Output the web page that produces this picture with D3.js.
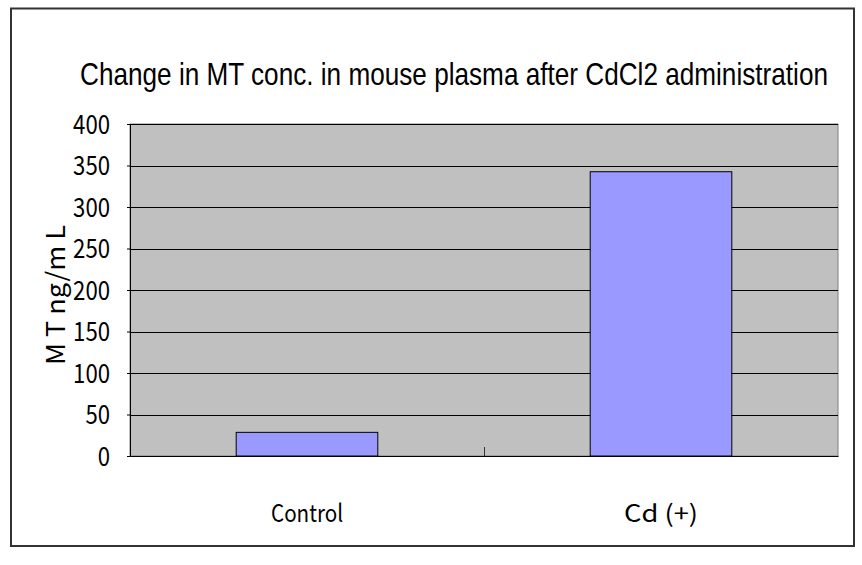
<!DOCTYPE html>
<html><head><meta charset="utf-8">
<script src="https://cdn.jsdelivr.net/npm/d3@7"></script>
<style>body{margin:0;background:#fff}svg{display:block}</style>
</head><body><svg id="c" width="862" height="565"></svg>
<script>
const categories = ["Control", "Cd (+)"];
const values = [28.5, 342.5];
const yTicks = [0, 50, 100, 150, 200, 250, 300, 350, 400];
const title = "Change in MT conc. in mouse plasma after CdCl2 administration";
const yLabel = "M T  ng/m L";

const svg = d3.select("#c");
const plot = {l: 130, r: 838, t: 124, b: 456};
const jp = "'Noto Sans CJK JP', 'DejaVu Sans', sans-serif";

svg.append("rect").attr("x", 11).attr("y", 8.5).attr("width", 843).attr("height", 537.5)
  .attr("fill", "#fff").attr("stroke", "#333").attr("stroke-width", 2);

const x = d3.scaleBand().domain(categories).range([plot.l, plot.r]).paddingInner(0).paddingOuter(0);
const y = d3.scaleLinear().domain([0, 400]).range([plot.b, plot.t]);

svg.append("rect").attr("x", plot.l).attr("y", plot.t).attr("width", plot.r - plot.l).attr("height", plot.b - plot.t)
  .attr("fill", "#C0C0C0").attr("stroke", "#808080").attr("stroke-width", 1);

// gridlines
svg.append("g").selectAll("line").data(yTicks.filter(d => d > 0)).join("line")
  .attr("x1", plot.l).attr("x2", plot.r)
  .attr("y1", d => Math.round(y(d)) + 0.5).attr("y2", d => Math.round(y(d)) + 0.5)
  .attr("stroke", "#000").attr("stroke-width", 1);

// bars
const bw = x.bandwidth() * 0.4;
svg.append("g").selectAll("rect").data(values).join("rect")
  .attr("x", (d, i) => x(categories[i]) + (x.bandwidth() - bw) / 2)
  .attr("y", d => y(d))
  .attr("width", bw)
  .attr("height", d => y(0) - y(d))
  .attr("fill", "#9999FF").attr("stroke", "#000").attr("stroke-width", 1);

// axes
const yAxis = d3.axisLeft(y).tickValues(yTicks).tickSize(3).tickPadding(18);
const gy = svg.append("g").attr("transform", `translate(${plot.l},0)`).call(yAxis);
gy.select(".domain").attr("stroke", "#000");
gy.selectAll(".tick line").attr("stroke", "#000");
gy.selectAll("text").attr("font-family", jp)
  .attr("font-size", 26).attr("fill", "#000").attr("dy", "0.36em")
  .each(function(){
    const t = d3.select(this);
    t.attr("text-anchor", "end").attr("x", -20).attr("textLength", t.text().length * 12.3).attr("lengthAdjust", "spacingAndGlyphs");
  });

const xAxis = d3.axisBottom(x).tickSize(0).tickFormat("");
const gx = svg.append("g").attr("transform", `translate(0,${plot.b})`).call(xAxis);
gx.select(".domain").attr("stroke", "#000");
// category boundary tick (inside)
svg.append("line").attr("x1", x(categories[1]) + 0.5).attr("x2", x(categories[1]) + 0.5)
  .attr("y1", plot.b).attr("y2", plot.b - 9).attr("stroke", "#333");

// category labels
svg.append("g").selectAll("text").data(categories).join("text")
  .attr("x", d => x(d) + x.bandwidth() / 2)
  .attr("y", 522)
  .attr("text-anchor", "middle")
  .attr("font-family", jp)
  .attr("font-size", 24)
  .attr("textLength", (d, i) => i === 0 ? 72 : 74)
  .attr("lengthAdjust", "spacingAndGlyphs")
  .text(d => d);

// title (horizontally condensed via scale transform)
const tt = svg.append("text").attr("text-anchor", "middle")
  .attr("font-family", "'Liberation Sans', Arial, sans-serif").attr("font-size", 32)
  .text(title);
const natural = tt.node().getComputedTextLength();
const sx = 748 / natural;
tt.attr("transform", `translate(454,85) scale(${sx},1)`);

// y label
svg.append("text").attr("transform", "translate(65,295) rotate(-90)")
  .attr("text-anchor", "middle")
  .attr("font-family", jp)
  .attr("font-size", 26)
  .attr("textLength", 140).attr("lengthAdjust", "spacingAndGlyphs")
  .text(yLabel);
</script></body></html>
